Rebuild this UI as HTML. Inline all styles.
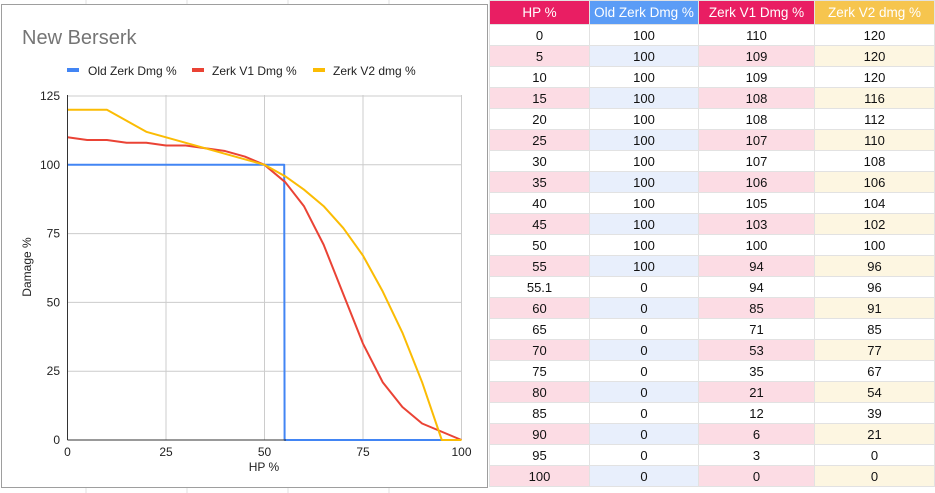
<!DOCTYPE html>
<html><head><meta charset="utf-8"><style>
body{margin:0;width:935px;height:493px;overflow:hidden;background:#fff;font-family:"Liberation Sans",Arial,sans-serif;position:relative}
#chart{position:absolute;left:0;top:0}
table{position:absolute;left:489px;top:0;border-collapse:collapse;font-size:13px;table-layout:fixed}
td{height:20px;border:1px solid #e2e2e2;text-align:center;padding:0;color:#111}
th{height:23px;color:#fff;font-weight:normal;font-size:13.5px;border:1px solid #e2e2e2;padding:0}
#tb tr:nth-child(even) td:nth-child(1){background:#fcdce4}
#tb tr:nth-child(even) td:nth-child(2){background:#e8effc}
#tb tr:nth-child(even) td:nth-child(3){background:#fcdce4}
#tb tr:nth-child(even) td:nth-child(4){background:#fdf6e1}
</style></head><body>
<svg id="chart" width="489" height="493" xmlns="http://www.w3.org/2000/svg">
<g stroke="#e2e2e2"><line x1="86" y1="0" x2="86" y2="4"/><line x1="187" y1="0" x2="187" y2="4"/><line x1="288" y1="0" x2="288" y2="4"/><line x1="389" y1="0" x2="389" y2="4"/>
<line x1="86" y1="488" x2="86" y2="493"/><line x1="187" y1="488" x2="187" y2="493"/><line x1="288" y1="488" x2="288" y2="493"/><line x1="389" y1="488" x2="389" y2="493"/></g>
<rect x="1.5" y="4.5" width="486" height="483" fill="#fff" stroke="#9e9e9e"/>
<text x="22" y="44" font-size="20" fill="#757575">New Berserk</text>
<rect x="67" y="68" width="12" height="4" fill="#4285f4"/><text x="88" y="75" font-size="12" fill="#222">Old Zerk Dmg %</text>
<rect x="192" y="68" width="12" height="4" fill="#ea4335"/><text x="212" y="75" font-size="12" fill="#222">Zerk V1 Dmg %</text>
<rect x="313" y="68" width="12" height="4" fill="#fbbc04"/><text x="333" y="75" font-size="12" fill="#222">Zerk V2 dmg %</text>
<g id="grid" stroke="#cccccc" stroke-width="1"></g>
<g font-size="12" fill="#222" id="labels"></g>
<text x="264" y="471" font-size="12" fill="#222" text-anchor="middle">HP %</text>
<text transform="translate(31,267) rotate(-90)" font-size="12" fill="#222" text-anchor="middle">Damage %</text>
<g id="lines" fill="none" stroke-width="2" stroke-linejoin="round"></g>
<line x1="67.5" y1="95" x2="67.5" y2="440" stroke="#333"/>
<line x1="67.5" y1="440" x2="286" y2="440" stroke="#333"/>
</svg>
<table>
<colgroup><col style="width:100px"><col style="width:109px"><col style="width:116px"><col style="width:120px"></colgroup>
<thead><tr><th style="background:#e91e63">HP %</th><th style="background:#5b9cf6">Old Zerk Dmg %</th><th style="background:#e91e63">Zerk V1 Dmg %</th><th style="background:#f6c54e">Zerk V2 dmg %</th></tr></thead>
<tbody id="tb"></tbody>
</table>
<script>
var hp=[0,5,10,15,20,25,30,35,40,45,50,55,55.1,60,65,70,75,80,85,90,95,100];
var old=hp.map(function(h){return h<=55?100:0});
var v1=[110,109,109,108,108,107,107,106,105,103,100,94,94,85,71,53,35,21,12,6,3,0];
var v2=[120,120,120,116,112,110,108,106,104,102,100,96,96,91,85,77,67,54,39,21,0,0];
var tb=document.getElementById('tb'),h='';
for(var i=0;i<hp.length;i++)h+='<tr><td>'+hp[i]+'</td><td>'+old[i]+'</td><td>'+v1[i]+'</td><td>'+v2[i]+'</td></tr>';
tb.innerHTML=h;
function X(v){return 67.5+3.94*v}function Y(d){return 440-2.752*d}
var g='',l='';
for(var k=0;k<=5;k++){var d=k*25;g+='<line x1="67.5" x2="461.5" y1="'+Y(d)+'" y2="'+Y(d)+'"/>';
l+='<text x="60" y="'+(Y(d)+4)+'" text-anchor="end">'+d+'</text>';
if(k<=4){g+='<line y1="95" y2="440" x1="'+X(d)+'" x2="'+X(d)+'"/>';l+='<text x="'+X(d)+'" y="456" text-anchor="middle">'+d+'</text>';}}
document.getElementById('grid').innerHTML=g;document.getElementById('labels').innerHTML=l;
function pl(a,c){return '<polyline stroke="'+c+'" points="'+hp.map(function(x,i){return X(x)+','+Y(a[i])}).join(' ')+'"/>'}
document.getElementById('lines').innerHTML=pl(old,'#4285f4')+pl(v1,'#ea4335')+pl(v2,'#fbbc04');
</script>
</body></html>
